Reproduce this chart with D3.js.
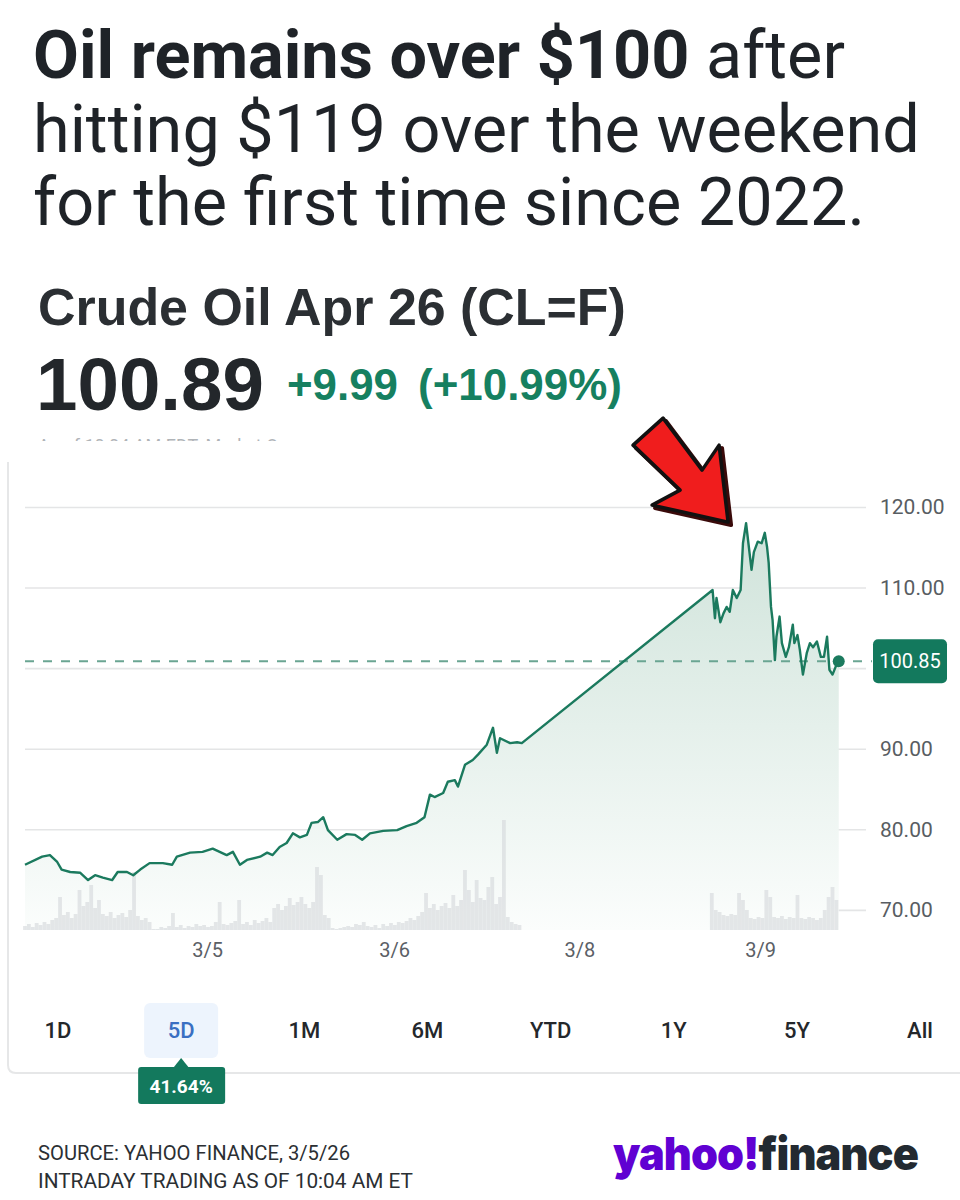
<!DOCTYPE html>
<html>
<head>
<meta charset="utf-8">
<script src="https://cdn.jsdelivr.net/npm/d3@7"></script>
<style>
  body { margin: 0; background: #fff; }
  svg { display: block; }
</style>
</head>
<body>
<script>
// Chart values (x in trading hours, weekend squeezed like the source chart)

var priceData = [
    [0, 75.6], [2.2, 76.6], [3.2, 76.8], [4.1, 76.0], [4.7, 75.0], [5.8, 74.7], [7.1, 74.6],
    [8.1, 73.7], [9.0, 74.3], [10.0, 74.0], [11.2, 73.7], [11.9, 74.7], [13.1, 74.7], [13.9, 74.3],
    [14.8, 75.0], [16.0, 75.8], [17.7, 75.8], [18.9, 75.6], [19.5, 76.6], [21.2, 77.1], [22.8, 77.2],
    [24.1, 77.6], [25.0, 77.2], [25.9, 76.8], [26.7, 77.2], [27.6, 75.6], [28.5, 76.2], [30.2, 76.6],
    [31.1, 77.1], [31.8, 76.8], [32.7, 77.8], [33.6, 78.3], [34.4, 79.5], [35.3, 79.0], [36.2, 79.3],
    [36.8, 80.8], [37.6, 80.9], [38.3, 81.5], [38.9, 79.9], [40.1, 78.7], [41.3, 79.4], [42.4, 79.3],
    [43.3, 78.7], [44.3, 79.5], [46.0, 79.8], [47.8, 79.9], [49.0, 80.4], [50.3, 80.8], [51.3, 81.5],
    [52.0, 84.3], [52.6, 84.0], [53.7, 84.5], [54.3, 85.9], [55.2, 86.1], [55.6, 85.3], [56.5, 88.0],
    [57.5, 88.6], [58.2, 89.3], [59.3, 90.5], [60.1, 92.6], [60.6, 89.5], [61.0, 91.3], [62.3, 90.7],
    [63.2, 90.8], [63.8, 90.7],
    [88.3, 109.7], [88.6, 106.2], [88.8, 108.7], [89.3, 105.7], [89.7, 106.8], [90.1, 107.6],
    [90.5, 107.0], [90.9, 109.7], [91.4, 108.7], [91.9, 109.7], [92.2, 115.5], [92.6, 118.0],
    [92.9, 115.5], [93.3, 112.2], [93.6, 114.4], [94.1, 115.7], [94.6, 115.5], [95.0, 116.8],
    [95.3, 115.0], [95.5, 113.1], [95.8, 107.6], [96.0, 106.0], [96.3, 101.0], [96.5, 103.9],
    [96.9, 106.4], [97.2, 103.1], [97.7, 101.4], [98.1, 102.6], [98.6, 105.4], [98.8, 103.1],
    [99.2, 104.1], [99.5, 102.3], [99.9, 99.2], [100.4, 101.9], [100.8, 103.1], [101.2, 102.6],
    [101.7, 103.3], [102.2, 101.4], [102.6, 101.4], [103.0, 103.9], [103.3, 99.8], [103.7, 99.2],
    [104.2, 100.4], [104.5, 100.85]
];

// volume every half hour, first session then Monday
var volumeStart1 = 0;
var volume1 = [4, 6, 3, 7, 5, 8, 6, 10, 12, 33, 15, 18, 12, 16, 40, 24, 28, 45, 22, 30,
    16, 14, 18, 12, 15, 17, 13, 20, 58, 14, 10, 12, 8, 1, 1, 3, 2, 4, 17, 3,
    5, 2, 4, 3, 6, 4, 5, 3, 4, 8, 28, 6, 5, 7, 9, 30, 6, 8, 5, 10,
    7, 9, 12, 8, 22, 26, 20, 24, 32, 25, 28, 33, 26, 22, 28, 63, 55, 15, 12, 2,
    1, 2, 3, 4, 3, 6, 5, 8, 4, 3, 5, 2, 6, 4, 7, 5, 8, 7, 9, 12,
    10, 14, 18, 37, 22, 26, 20, 24, 27, 22, 35, 24, 30, 60, 40, 28, 50, 32, 30, 43,
    53, 26, 33, 110, 13, 8, 6, 5];
var volumeStart2 = 88.2;
var volume2 = [37, 20, 18, 15, 14, 16, 15, 37, 30, 20, 12, 11, 13, 12, 40, 33, 13, 12, 14, 11,
    13, 12, 35, 12, 11, 13, 12, 10, 12, 20, 33, 43, 30];

var gridTicks = [70, 80, 90, 100, 110, 120];
var dateTickHours = [23.4, 47.4, 71.2, 94.4];
var dateTickLabels = ["3/5", "3/6", "3/8", "3/9"];
var lastPrice = 100.85;

var rangeButtons = ["1D", "5D", "1M", "6M", "YTD", "1Y", "5Y", "All"];
var activeButton = "5D";
var activeChange = "41.64%";

// SVG container size

var svgWidth = 960;
var svgHeight = 1200;

var plot = { left: 25, right: 866, top: 507, bottom: 930 };

var green = "#1b7a5e";

var svg = d3.select("body")
    .append("svg")
    .attr("width", svgWidth)
    .attr("height", svgHeight)
    .style("font-family", "Roboto, sans-serif");

svg.append("rect").attr("width", svgWidth).attr("height", svgHeight).attr("fill", "#fff");

// fit a text element to a width by changing its font size
function fitText(sel, target) {
    var w = sel.node().getComputedTextLength();
    var fs = parseFloat(sel.attr("font-size"));
    sel.attr("font-size", fs * target / w);
    return fs * target / w;
}

// Headline

var title1 = svg.append("text")
    .attr("x", 33).attr("y", 78)
    .attr("font-size", 60)
    .attr("fill", "#1f2328");
title1.append("tspan").attr("font-weight", 700).text("Oil remains over $100");
title1.append("tspan").text(" after");

var title2 = svg.append("text")
    .attr("x", 33).attr("y", 152)
    .attr("font-size", 60)
    .attr("fill", "#1f2328")
    .text("hitting $119 over the weekend");

var title3 = svg.append("text")
    .attr("x", 33).attr("y", 225)
    .attr("font-size", 60)
    .attr("fill", "#1f2328")
    .text("for the first time since 2022.");

var titleSize = fitText(title2, 887);
title1.attr("font-size", titleSize);
title3.attr("font-size", titleSize);

// Quote header

var nameText = svg.append("text")
    .attr("x", 38).attr("y", 325)
    .attr("font-family", "'Liberation Sans', Arial, sans-serif")
    .attr("font-weight", 700)
    .attr("font-size", 46)
    .attr("fill", "#2b2f33")
    .text("Crude Oil Apr 26 (CL=F)");
fitText(nameText, 588);

var priceText = svg.append("text")
    .attr("x", 36).attr("y", 410)
    .attr("font-family", "'Liberation Sans', Arial, sans-serif")
    .attr("font-weight", 700)
    .attr("font-size", 60)
    .attr("fill", "#23272b")
    .text("100.89");
fitText(priceText, 228);

var chg1 = svg.append("text")
    .attr("x", 287).attr("y", 400)
    .attr("font-family", "'Liberation Sans', Arial, sans-serif")
    .attr("font-weight", 700)
    .attr("font-size", 36)
    .attr("fill", "#168060")
    .text("+9.99");
fitText(chg1, 111);

var chg2 = svg.append("text")
    .attr("x", 418).attr("y", 400)
    .attr("font-family", "'Liberation Sans', Arial, sans-serif")
    .attr("font-weight", 700)
    .attr("font-size", 36)
    .attr("fill", "#168060")
    .text("(+10.99%)");
fitText(chg2, 204);

// half hidden market time line
svg.append("clipPath").attr("id", "cutLine")
    .append("rect").attr("x", 0).attr("y", 433).attr("width", 500).attr("height", 8);
svg.append("text")
    .attr("x", 38).attr("y", 452)
    .attr("font-size", 18)
    .attr("fill", "#b0b4b8")
    .attr("clip-path", "url(#cutLine)")
    .text("As of 10:04 AM EDT. Market Open.");

// Card outline

svg.append("path")
    .attr("d", "M8,462 L8,1065 Q8,1073 16,1073 L960,1073")
    .attr("fill", "none")
    .attr("stroke", "#e6e7e8")
    .attr("stroke-width", 2);

// Scales

var xScale = d3.scaleLinear()
    .domain([0, 108])
    .range([plot.left, plot.right]);

var yScale = d3.scaleLinear()
    .domain([67.5, 120])
    .range([plot.bottom, plot.top]);

var volScale = d3.scaleLinear()
    .domain([0, 120])
    .range([plot.bottom, plot.bottom - 120]);

var chartGroup = svg.append("g");

// Grid and right axis
var rightAxis = d3.axisRight(yScale)
    .tickValues(gridTicks)
    .tickSizeInner(-(plot.right - plot.left))
    .tickSizeOuter(0)
    .tickPadding(14)
    .tickFormat(function (d) { return d === 100 ? "" : d3.format(".2f")(d); });

var yAxisGroup = chartGroup.append("g")
    .attr("transform", `translate(${plot.right}, 0)`)
    .call(rightAxis);
yAxisGroup.select(".domain").remove();
yAxisGroup.selectAll("line").attr("stroke", "#e4e5e6").attr("stroke-width", 1.6);
yAxisGroup.selectAll("text")
    .attr("font-family", "Roboto, sans-serif")
    .attr("font-size", 21)
    .attr("fill", "#585d62");

// Area fill
var defs = svg.append("defs");
var grad = defs.append("linearGradient")
    .attr("id", "areaFill")
    .attr("gradientUnits", "userSpaceOnUse")
    .attr("x1", 0).attr("x2", 0)
    .attr("y1", yScale(118)).attr("y2", plot.bottom);
grad.append("stop").attr("offset", "0%").attr("stop-color", "#cfe3da");
grad.append("stop").attr("offset", "100%").attr("stop-color", "#fbfdfc");

var area = d3.area()
    .x(d => xScale(d[0]))
    .y0(plot.bottom)
    .y1(d => yScale(d[1]));

chartGroup.append("path")
    .datum(priceData)
    .attr("d", area)
    .attr("fill", "url(#areaFill)");

// Volume bars
function drawVolume(values, start) {
    chartGroup.append("g")
        .selectAll("rect")
        .data(values)
        .enter()
        .append("rect")
        .attr("x", (d, i) => xScale(start + i * 0.5) - 1.9)
        .attr("width", 3.8)
        .attr("y", d => volScale(d))
        .attr("height", d => plot.bottom - volScale(d))
        .attr("fill", "#d3d7db")
        .attr("opacity", 0.6);
}
drawVolume(volume1, volumeStart1);
drawVolume(volume2, volumeStart2);

// Date axis
var bottomAxis = d3.axisBottom(xScale)
    .tickValues(dateTickHours)
    .tickSize(0)
    .tickPadding(13)
    .tickFormat((d, i) => dateTickLabels[i]);

var xAxisGroup = chartGroup.append("g")
    .attr("transform", `translate(0, ${plot.bottom})`)
    .call(bottomAxis);
xAxisGroup.select(".domain").remove();
xAxisGroup.selectAll("text")
    .attr("font-family", "Roboto, sans-serif")
    .attr("font-size", 20)
    .attr("fill", "#5b6066");

// Last price dashed line
chartGroup.append("line")
    .attr("x1", plot.left)
    .attr("x2", 872)
    .attr("y1", yScale(lastPrice))
    .attr("y2", yScale(lastPrice))
    .attr("stroke", "#6aa592")
    .attr("stroke-width", 2)
    .attr("stroke-dasharray", "9,9");

// Price line
var line = d3.line()
    .x(d => xScale(d[0]))
    .y(d => yScale(d[1]));

chartGroup.append("path")
    .datum(priceData)
    .attr("d", line)
    .attr("fill", "none")
    .attr("stroke", green)
    .attr("stroke-width", 2.4)
    .attr("stroke-linejoin", "round");

var lastPoint = priceData[priceData.length - 1];
chartGroup.append("circle")
    .attr("cx", xScale(lastPoint[0]))
    .attr("cy", yScale(lastPoint[1]))
    .attr("r", 6)
    .attr("fill", green);

// Last price badge
chartGroup.append("rect")
    .attr("x", 873)
    .attr("y", yScale(lastPrice) - 22)
    .attr("width", 74)
    .attr("height", 44)
    .attr("rx", 5)
    .attr("fill", "#13795d");

chartGroup.append("text")
    .attr("x", 910)
    .attr("y", yScale(lastPrice) + 7)
    .attr("text-anchor", "middle")
    .attr("font-size", 20)
    .attr("fill", "#fff")
    .text(d3.format(".2f")(lastPrice));

// Red arrow pointing at the peak
var peak = priceData.reduce((a, b) => (b[1] > a[1] ? b : a));
var px = xScale(peak[0]), py = yScale(peak[1]);
var arrowShape = [[-18, -1], [-94, -18], [-66, -33], [-113, -78], [-83, -105], [-44, -53], [-27, -78]];
var arrowPath = "M" + arrowShape.map(p => (px + p[0]) + "," + (py + p[1])).join("L") + "Z";

svg.append("path")
    .attr("d", arrowPath)
    .attr("transform", "translate(3,3)")
    .attr("fill", "#3a0a0a")
    .attr("stroke", "#3a0a0a")
    .attr("stroke-width", 4)
    .attr("stroke-linejoin", "round");

svg.append("path")
    .attr("d", arrowPath)
    .attr("fill", "#f01d1d")
    .attr("stroke", "#111")
    .attr("stroke-width", 3.5)
    .attr("stroke-linejoin", "round");

// Range buttons

var buttonScale = d3.scalePoint()
    .domain(rangeButtons)
    .range([58, 920]);

var activeX = buttonScale(activeButton);

svg.append("rect")
    .attr("x", activeX - 37).attr("y", 1003)
    .attr("width", 74).attr("height", 55)
    .attr("rx", 6)
    .attr("fill", "#edf4fd");

svg.selectAll(".rangeBtn")
    .data(rangeButtons)
    .enter()
    .append("text")
    .attr("class", "rangeBtn")
    .attr("x", d => buttonScale(d))
    .attr("y", 1038)
    .attr("text-anchor", "middle")
    .attr("font-size", 22)
    .attr("font-weight", 500)
    .attr("fill", d => (d === activeButton ? "#3a6fc2" : "#24272b"))
    .text(d => d);

// change tooltip under 5D
svg.append("path")
    .attr("d", `M${activeX - 8},1068 L${activeX},1058 L${activeX + 8},1068 Z`)
    .attr("fill", "#13795d");
svg.append("rect")
    .attr("x", activeX - 43).attr("y", 1067)
    .attr("width", 87).attr("height", 37)
    .attr("rx", 3)
    .attr("fill", "#13795d");
svg.append("text")
    .attr("x", activeX).attr("y", 1093)
    .attr("text-anchor", "middle")
    .attr("font-size", 19)
    .attr("font-weight", 700)
    .attr("fill", "#fff")
    .text(activeChange);

// Footer

svg.append("text")
    .attr("x", 38).attr("y", 1160)
    .attr("font-size", 20)
    .attr("fill", "#2b2f33")
    .attr("textLength", 312)
    .attr("lengthAdjust", "spacingAndGlyphs")
    .text("SOURCE: YAHOO FINANCE, 3/5/26");

svg.append("text")
    .attr("x", 38).attr("y", 1188)
    .attr("font-size", 20)
    .attr("fill", "#2b2f33")
    .attr("textLength", 375)
    .attr("lengthAdjust", "spacingAndGlyphs")
    .text("INTRADAY TRADING AS OF 10:04 AM ET");

var logo = svg.append("text")
    .attr("x", 613).attr("y", 1170)
    .attr("font-family", "Inter, 'Open Sans', sans-serif")
    .attr("font-weight", 900)
    .attr("font-size", 46)
    .attr("letter-spacing", -1)
    .attr("textLength", 305)
    .attr("lengthAdjust", "spacingAndGlyphs");
logo.append("tspan").attr("fill", "#6001d2").text("yahoo!");
logo.append("tspan").attr("fill", "#232a31").text("finance");
</script>
</body>
</html>
